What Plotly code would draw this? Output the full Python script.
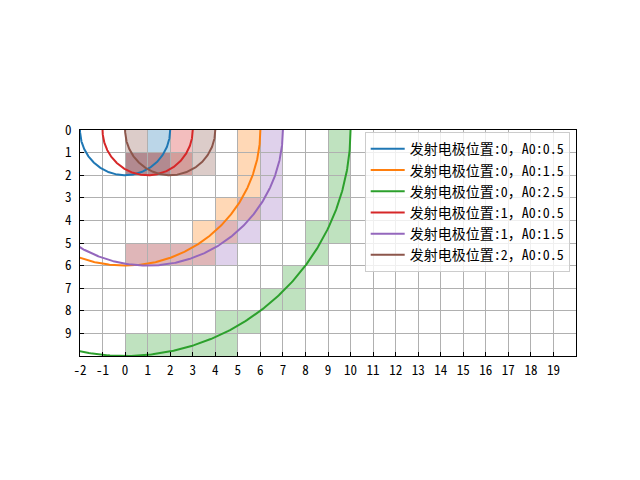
import numpy as np
import plotly.graph_objects as go

# Series definitions (emitter position, A0 value) and arc radius
labels = ["发射电极位置:0，A0:0.5", "发射电极位置:0，A0:1.5", "发射电极位置:0，A0:2.5",
          "发射电极位置:1，A0:0.5", "发射电极位置:1，A0:1.5", "发射电极位置:2，A0:0.5"]
centers = [0, 0, 0, 1, 1, 2]
radii = [2, 6, 10, 2, 6, 2]
colors = ["#1f77b4", "#ff7f0e", "#2ca02c", "#d62728", "#9467bd", "#8c564b"]

# Shaded grid cells (column, row) for each series
cells_blue = [(0, 1), (1, 0), (1, 1)]
cells_orange = [(0, 5), (1, 5), (2, 5), (3, 4), (3, 5), (4, 3), (4, 4), (5, 0), (5, 1), (5, 2), (5, 3)]
cells_green = [(0, 9), (1, 9), (2, 9), (3, 9), (4, 8), (4, 9), (5, 8), (6, 7), (7, 6), (7, 7),
               (8, 4), (8, 5), (9, 0), (9, 1), (9, 2), (9, 3), (9, 4)]
cells_red = [(0, 1), (1, 1), (2, 0), (2, 1)]
cells_purple = [(0, 5), (1, 5), (2, 5), (3, 5), (4, 4), (4, 5), (5, 3), (5, 4), (6, 0), (6, 1), (6, 2), (6, 3)]
cells_brown = [(0, 0), (0, 1), (1, 1), (2, 1), (3, 0), (3, 1)]
all_cells = [cells_blue, cells_orange, cells_green, cells_red, cells_purple, cells_brown]

x_ticks = list(range(-2, 20))
y_ticks = list(range(0, 10))


def rgba(hex_color, a):
    h = hex_color.lstrip("#")
    r, g, b = int(h[0:2], 16), int(h[2:4], 16), int(h[4:6], 16)
    return f"rgba({r},{g},{b},{a})"


fig = go.Figure()
shapes = []
for cells, col in zip(all_cells, colors):
    for (cx, cy) in cells:
        shapes.append(dict(type="rect", xref="x", yref="y", x0=cx, x1=cx + 1, y0=cy, y1=cy + 1,
                           fillcolor=rgba(col, 0.3), line=dict(width=0), layer="below"))

t = np.linspace(0, np.pi, 400)
for lab, c, r, col in zip(labels, centers, radii, colors):
    fig.add_trace(go.Scatter(x=c + r * np.cos(t), y=r * np.sin(t), mode="lines", name=lab,
                             line=dict(color=col, width=2)))

font_family = "Noto Sans Mono CJK SC, Noto Sans CJK SC, sans-serif"
fig.update_layout(
    width=640, height=480,
    margin=dict(l=80, r=64, t=130, b=124, pad=0),
    paper_bgcolor="white", plot_bgcolor="white",
    shapes=shapes,
    font=dict(family=font_family, size=13, color="black"),
    legend=dict(x=0.574, y=0.99, xanchor="left", yanchor="top",
                bgcolor="rgba(255,255,255,0.8)", bordercolor="#cccccc", borderwidth=1,
                font=dict(family=font_family, size=14, color="black"),
                itemwidth=34, tracegroupgap=0),
)
fig.update_xaxes(range=[-2, 20], tickvals=x_ticks, ticktext=[str(v) for v in x_ticks],
                 showgrid=True, gridcolor="#b0b0b0", gridwidth=1, zeroline=False,
                 showline=True, linecolor="black", linewidth=1, mirror=True,
                 ticks="inside", ticklen=4, tickcolor="black", tickfont=dict(size=13),
                 ticklabelstandoff=2)
fig.update_yaxes(range=[10, 0], tickvals=y_ticks, ticktext=[str(v) for v in y_ticks],
                 showgrid=True, gridcolor="#b0b0b0", gridwidth=1, zeroline=False,
                 showline=True, linecolor="black", linewidth=1, mirror=True,
                 ticks="inside", ticklen=4, tickcolor="black", tickfont=dict(size=13),
                 ticklabelstandoff=5)

fig.write_html("out.html")
